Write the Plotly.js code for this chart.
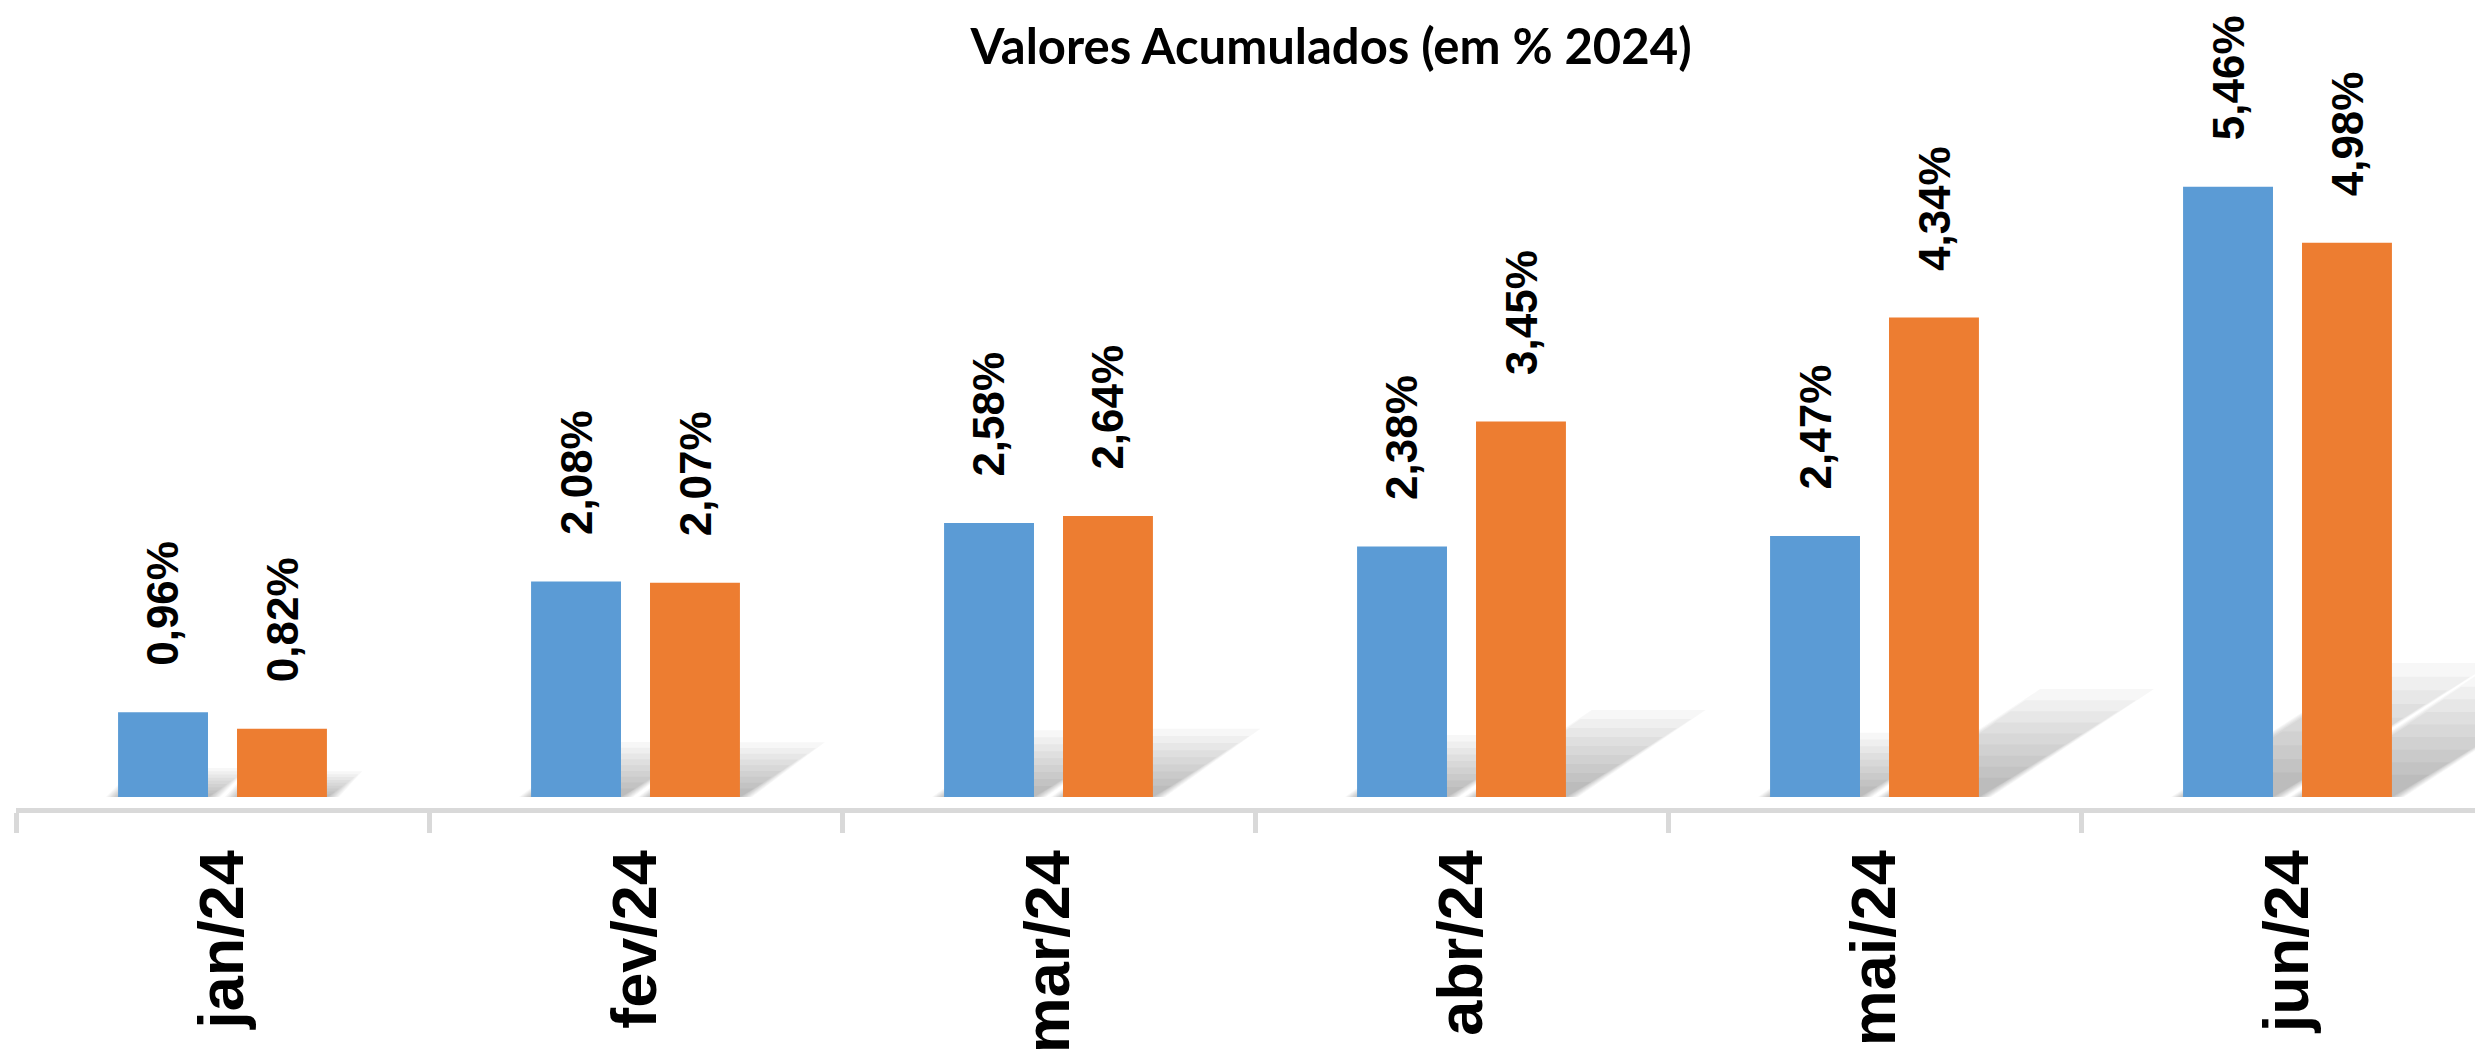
<!DOCTYPE html>
<html>
<head>
<meta charset="utf-8">
<script src="https://cdn.plot.ly/plotly-3.0.1.min.js"></script>
<style>
  html, body { margin: 0; padding: 0; background: #ffffff; }
  #chart { width: 2475px; height: 1058px; }
</style>
</head>
<body>
<div id="chart"></div>
<script>
// ---- data ----
const categories = ['jan/24', 'fev/24', 'mar/24', 'abr/24', 'mai/24', 'jun/24'];
const seriesBlue = [0.96, 2.08, 2.58, 2.38, 2.47, 5.46];
const seriesOrange = [0.82, 2.07, 2.64, 3.45, 4.34, 4.98];
const chartTitle = 'Valores Acumulados (em % 2024)';

const fmt = v => v.toFixed(2).replace('.', ',') + '%';

const blue = '#5B9BD5';
const orange = '#ED7D31';

const traces = [
  { type: 'bar', x: categories, y: seriesBlue, marker: { color: blue }, hoverinfo: 'none', name: 'A' },
  { type: 'bar', x: categories, y: seriesOrange, marker: { color: orange }, hoverinfo: 'none', name: 'B' }
];

// geometry helpers (category units / value units)
const yBottom = 0.235, yTop = 7.059;
const slotHalf = 0.144;      // group offset of each bar centre, in category units
const barHalf = 0.109;       // half bar width, in category units
const pxPerVal = 116.8, pxPerCat = 413;

const labelFont = { family: 'Liberation Sans, Arial, sans-serif', size: 44, color: '#000000', weight: 700 };
const annotations = [];
const shapes = [];
[[seriesBlue, -1], [seriesOrange, 1]].forEach(([vals, side]) => {
  vals.forEach((v, i) => {
    annotations.push({
      x: categories[i], y: v, xref: 'x', yref: 'y',
      text: fmt(v), showarrow: false, textangle: -90,
      xanchor: 'center', yanchor: 'bottom', xshift: side * 59.5, yshift: 44,
      font: labelFont
    });
    // soft perspective shadow cast up-right on the floor (drawn below the bars), fading with distance
    const h = v - yBottom;
    const dxu = 0.34 * h * pxPerVal / pxPerCat;
    const dyv = 0.20 * h;
    const c = i + side * slotHalf;
    const nLayers = 9;
    for (let k = 0; k < nLayers; k++) {
      const len = 1 - 0.1 * k;
      const e = (nLayers - 1 - k) * 1.5;
      const ex = e / pxPerCat, ey = e / pxPerVal;
      const x0 = c - barHalf - ex, x1 = c + barHalf + ex;
      const tx = dxu * len, ty = dyv * len + ey;
      const path = `M ${x0} ${yBottom} L ${x1} ${yBottom} L ${x1 + tx} ${yBottom + ty} L ${x0 + tx} ${yBottom + ty} Z`;
      shapes.push({
        type: 'path', path: path, xref: 'x', yref: 'y', layer: 'below',
        fillcolor: 'rgba(0,0,0,0.032)', line: { width: 0 }
      });
    }
  });
});

const layout = {
  width: 2475, height: 1058,
  margin: { l: 16, r: 0, t: 0, b: 248, pad: 0 },
  paper_bgcolor: '#ffffff', plot_bgcolor: '#ffffff',
  showlegend: false,
  barmode: 'group', bargap: 0.424, bargroupgap: 0.244,
  title: {
    text: chartTitle, x: 0.5378, xanchor: 'center', xref: 'container',
    y: 1 - 47 / 1058, yref: 'container', yanchor: 'middle',
    font: { family: 'Lato, Carlito, Calibri, sans-serif', size: 49, color: '#000000', weight: 700 }
  },
  xaxis: {
    type: 'category', range: [-0.5, 5.454], anchor: 'free', position: 0,
    showline: true, linecolor: '#d9d9d9', linewidth: 5,
    ticks: 'outside', tickson: 'boundaries', ticklen: 20, tickwidth: 5, tickcolor: '#d9d9d9',
    tickangle: -90, ticklabelstandoff: 12,
    tickfont: { family: 'Liberation Sans, Arial, sans-serif', size: 63, color: '#000000', weight: 700 },
    showgrid: false, zeroline: false, automargin: false, fixedrange: true
  },
  yaxis: {
    range: [yBottom, yTop], domain: [13 / 810, 1], visible: false,
    showgrid: false, zeroline: false, automargin: false, fixedrange: true
  },
  shapes: shapes,
  annotations: annotations
};

Plotly.newPlot('chart', traces, layout, { displayModeBar: false, staticPlot: true });
</script>
</body>
</html>
